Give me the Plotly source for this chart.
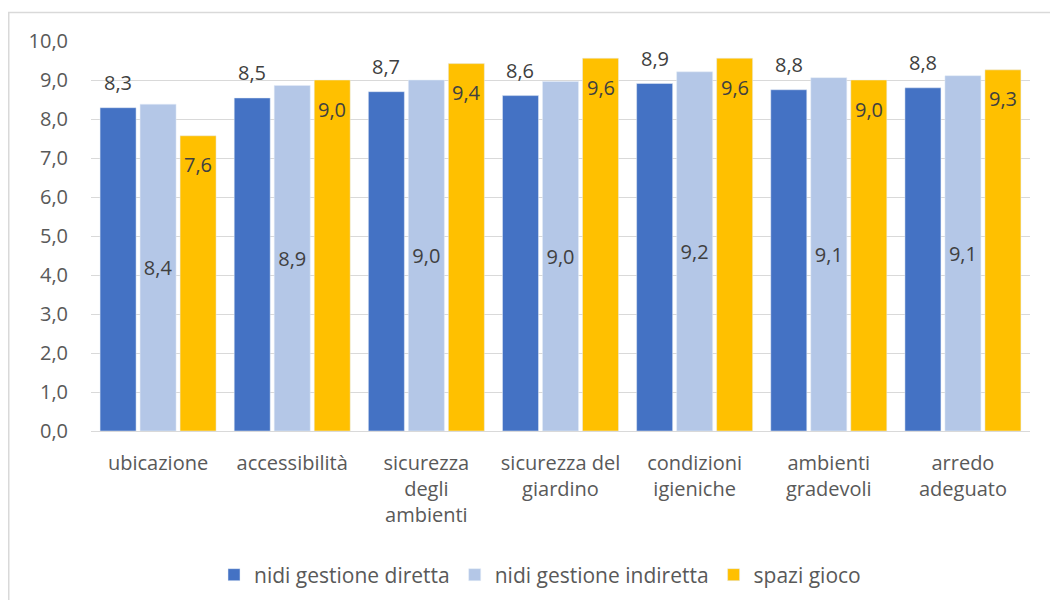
import plotly.graph_objects as go

categories = ["ubicazione", "accessibilità", "sicurezza<br>degli<br>ambienti",
              "sicurezza del<br>giardino", "condizioni<br>igieniche",
              "ambienti<br>gradevoli", "arredo<br>adeguato"]
series_names = ["nidi gestione diretta", "nidi gestione indiretta", "spazi gioco"]
diretta = [8.29, 8.54, 8.70, 8.60, 8.91, 8.75, 8.80]
indiretta = [8.38, 8.86, 9.00, 8.96, 9.21, 9.06, 9.11]
spazi = [7.57, 9.00, 9.42, 9.56, 9.56, 9.00, 9.26]
colors = ["#4472C4", "#B4C7E7", "#FFC000"]
y_ticks = [0, 1, 2, 3, 4, 5, 6, 7, 8, 9, 10]

FONT = "Open Sans"
FS = 20
TXT = "#404040"
# page body has an 8px margin, so the figure is 8px smaller and offset
W, H = 1050, 592
L, R, T, B = 83, 28, 33, 169
PW = W - L - R
PH = H - T - B
BOT = H - B  # y of the x axis in figure px

fig = go.Figure()
fig.add_trace(go.Bar(x=categories, y=diretta, name=series_names[0],
                     marker_color=colors[0], hoverinfo="x+y"))
fig.add_trace(go.Bar(x=categories, y=indiretta, name=series_names[1],
                     marker_color=colors[1], texttemplate="%{y:.1f}",
                     textposition="inside", insidetextanchor="middle",
                     textfont=dict(family=FONT, size=FS, color=TXT),
                     hoverinfo="x+y"))
fig.add_trace(go.Bar(x=categories, y=spazi, name=series_names[2],
                     marker_color=colors[2], hoverinfo="x+y"))

slot = PW / len(categories) * (1 - 0.1054) / 3
annotations = []
for c, v in zip(categories, diretta):
    annotations.append(dict(x=c, y=v, xref="x", yref="y", text=f"{v:.1f}".replace(".", ","),
                            showarrow=False, xshift=-slot, yshift=25, yanchor="middle",
                            font=dict(family=FONT, size=FS, color=TXT)))
for c, v in zip(categories, spazi):
    annotations.append(dict(x=c, y=v, xref="x", yref="y", text=f"{v:.1f}".replace(".", ","),
                            showarrow=False, xshift=slot, yshift=-29, yanchor="middle",
                            font=dict(family=FONT, size=FS, color=TXT)))

fig.update_layout(
    width=W, height=H,
    margin=dict(l=L, r=R, t=T, b=B, pad=0, autoexpand=False),
    barmode="group", bargap=0.1054, bargroupgap=0.1,
    separators=",.",
    plot_bgcolor="white", paper_bgcolor="white",
    font=dict(family=FONT, size=FS, color="#595959"),
    annotations=annotations,
    showlegend=True,
    legend=dict(orientation="h", x=(540 - 8 - L) / PW, xanchor="center",
                y=(BOT - (575 - 8)) / PH, yanchor="middle",
                font=dict(family=FONT, size=21, color="#595959"),
                itemwidth=30, traceorder="normal", bgcolor="rgba(0,0,0,0)"),
    shapes=[dict(type="rect", xref="paper", yref="paper",
                 x0=(0.75 - L) / PW, x1=(W + 10 - L) / PW,
                 y0=-(H + 10 - BOT) / PH, y1=(BOT - 4.5) / PH,
                 line=dict(color="#D9D9D9", width=1.5), fillcolor="rgba(0,0,0,0)",
                 layer="below")],
)
fig.update_yaxes(range=[0, 10], tickvals=y_ticks, tickformat=".1f",
                 showgrid=True, gridcolor="#D9D9D9", gridwidth=1,
                 zeroline=False, showline=False,
                 ticks="outside", ticklen=18, tickcolor="rgba(0,0,0,0)",
                 tickfont=dict(family=FONT, size=FS, color="#595959"))
fig.update_xaxes(showline=True, linecolor="#D9D9D9", linewidth=1,
                 ticks="outside", ticklen=14, tickcolor="rgba(0,0,0,0)",
                 tickfont=dict(family=FONT, size=FS, color="#595959"))

fig.write_html("out.html")
